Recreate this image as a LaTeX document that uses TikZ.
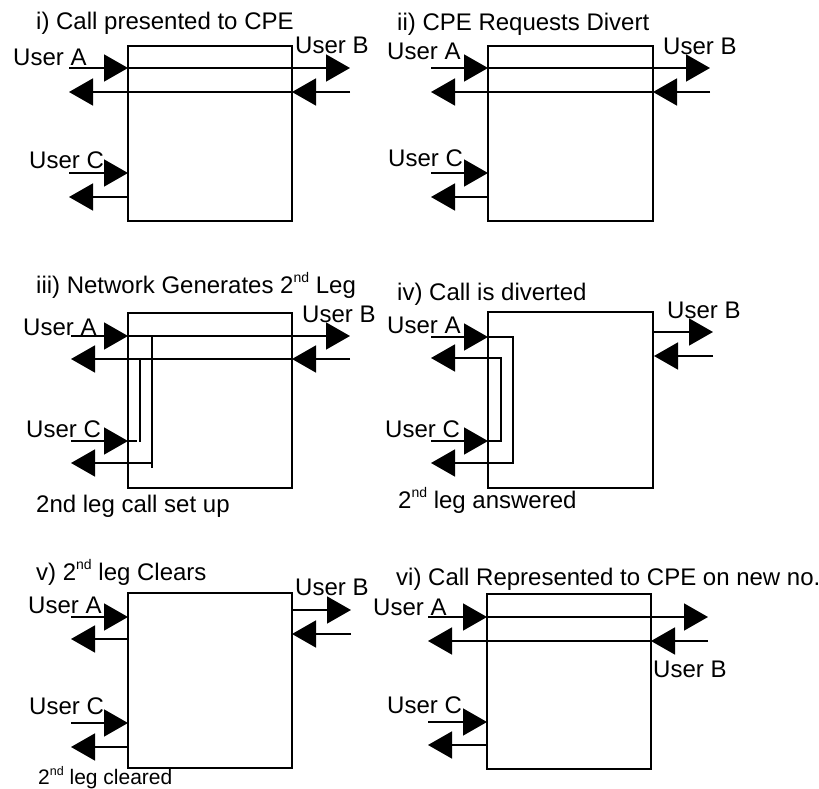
\documentclass[tikz,border=0pt]{standalone}
\usepackage{fontspec}
\setmainfont{Liberation Sans}
\usetikzlibrary{arrows.meta}
\newcommand{\sups}[1]{\raisebox{0.42em}{\fontsize{14}{14}\selectfont #1}}
\begin{document}
\begin{tikzpicture}[x=1pt,y=-1pt,
  box/.style={line width=1.8pt},
  ln/.style={line width=1.6pt},
  tri/.style={ln,-{Triangle[length=24pt,width=27pt]}},
  lbl/.style={anchor=base west,inner sep=0pt,font=\fontsize{24}{28}\selectfont}]
\useasboundingbox[fill=white] (0,0) rectangle (819,789);

% ---------- Panel i ----------
\node[lbl] (ti) at (36,30) {i) Call presented to CPE};
\draw[box] (128,46) rectangle (292,221);
\node[lbl] (iA) at (13,66) {User A};
\node[lbl] (iB) at (295,54) {User B};
\node[lbl] (iC) at (29,168) {User C};
\draw[tri] (69,68) -- (128,68);
\draw[tri] (128,68) -- (350,68);
\draw[tri] (350,92) -- (292,92);
\draw[tri] (292,92) -- (69,92);
\draw[tri] (69,173) -- (128,173);
\draw[tri] (128,197) -- (69,197);

% ---------- Panel ii ----------
\node[lbl] (tii) at (397,31) {ii) CPE Requests Divert};
\draw[box] (488,46) rectangle (653,221);
\node[lbl] (iiA) at (387,60) {User A};
\node[lbl] (iiB) at (663,55) {User B};
\node[lbl] (iiC) at (388,167) {User C};
\draw[tri] (431,68) -- (488,68);
\draw[tri] (488,68) -- (710,68);
\draw[tri] (710,92) -- (653,92);
\draw[tri] (653,92) -- (431,92);
\draw[tri] (431,173) -- (488,173);
\draw[tri] (488,197) -- (431,197);

% ---------- Panel iii ----------
\node[lbl] (tiii) at (36,293) {iii) Network Generates 2\sups{nd} Leg};
\draw[box] (128,313) rectangle (292,488);
\node[lbl] (iiiA) at (23,335) {User A};
\node[lbl] (iiiB) at (302,322) {User B};
\node[lbl] (iiiC) at (26,437) {User C};
\node[lbl] (iiiL) at (36,512) {2nd leg call set up};
\draw[tri] (71,336) -- (128,336);
\draw[tri] (128,336) -- (350,336);
\draw[tri] (350,359) -- (292,359);
\draw[tri] (292,359) -- (71,359);
\draw[tri] (71,441) -- (128,441);
\draw[ln] (128,441) -- (137,441);
\draw[ln] (140,359) -- (140,442);
\draw[ln] (152,336) -- (152,468);
\draw[tri] (152,463) -- (71,463);

% ---------- Panel iv ----------
\node[lbl] (tiv) at (397,300) {iv) Call is diverted};
\draw[box] (488,312) rectangle (653,488);
\node[lbl] (ivA) at (387,333) {User A};
\node[lbl] (ivB) at (667,318) {User B};
\node[lbl] (ivC) at (385,437) {User C};
\node[lbl] (ivL) at (398,508) {2\sups{nd} leg answered};
\draw[tri] (431,337) -- (488,337);
\draw[tri] (488,337) -- (513,337) -- (513,463) -- (431,463);
\draw[tri] (431,441) -- (488,441);
\draw[tri] (488,441) -- (501,441) -- (501,358) -- (431,358);
\draw[tri] (654,332) -- (713,332);
\draw[tri] (713,356) -- (654,356);

% ---------- Panel v ----------
\node[lbl] (tv) at (36,580) {v) 2\sups{nd} leg Clears};
\draw[box] (128,593) rectangle (292,768);
\node[lbl] (vA) at (28,613) {User A};
\node[lbl] (vB) at (295,595) {User B};
\node[lbl] (vC) at (29,714) {User C};
\node[lbl,font=\fontsize{21}{24}\selectfont] (vL) at (38,784) {2\raisebox{0.42em}{\fontsize{12.5}{12.5}\selectfont nd} leg cleared};
\draw[tri] (71,617) -- (128,617);
\draw[tri] (128,639) -- (71,639);
\draw[tri] (71,723) -- (128,723);
\draw[tri] (128,747) -- (71,747);
\draw[tri] (292,610) -- (351,610);
\draw[tri] (351,634) -- (292,634);

% ---------- Panel vi ----------
\node[lbl] (tvi) at (396,585) {vi) Call Represented to CPE on new no.};
\draw[box] (487,594) rectangle (651,769);
\node[lbl] (viA) at (373,615) {User A};
\node[lbl] (viC) at (387,713) {User C};
\node[lbl] (viB) at (653,677) {User B};
\draw[tri] (428,617) -- (487,617);
\draw[tri] (487,617) -- (708,617);
\draw[tri] (708,641) -- (651,641);
\draw[tri] (651,641) -- (428,641);
\draw[tri] (428,722) -- (487,722);
\draw[tri] (487,745) -- (428,745);
\end{tikzpicture}
\end{document}
